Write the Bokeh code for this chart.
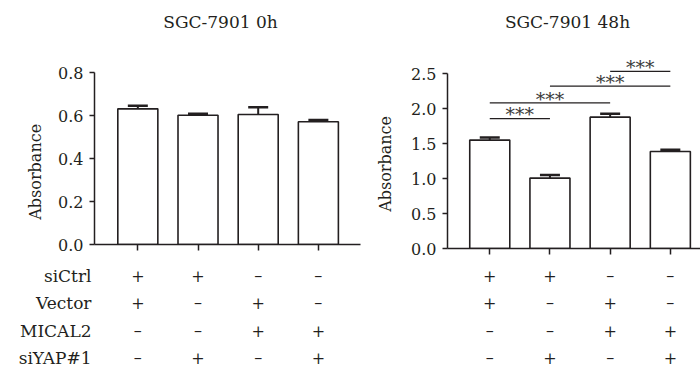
import numpy as np
from bokeh.plotting import figure
from bokeh.layouts import row, column
from bokeh.models import ColumnDataSource, FixedTicker, PrintfTickFormatter, Whisker, TeeHead, Range1d
from bokeh.core.properties import value
from bokeh.embed import file_html
from bokeh.resources import INLINE

# ---------------- data ----------------
positions = [1, 2, 3, 4]
titles = ["SGC-7901 0h", "SGC-7901 48h"]
y_label = "Absorbance"

vals_0h = [0.631, 0.601, 0.605, 0.571]
err_0h = [0.014, 0.007, 0.033, 0.008]
ticks_0h = [0.0, 0.2, 0.4, 0.6, 0.8]

vals_48h = [1.549, 1.006, 1.877, 1.386]
err_48h = [0.036, 0.045, 0.050, 0.025]
ticks_48h = [0.0, 0.5, 1.0, 1.5, 2.0, 2.5]

row_names = ["siCtrl", "Vector", "MICAL2", "siYAP#1"]
siCtrl = ["+", "+", "–", "–"]
Vector = ["+", "–", "+", "–"]
MICAL2 = ["–", "–", "+", "+"]
siYAP1 = ["–", "+", "–", "+"]
conditions = [siCtrl, Vector, MICAL2, siYAP1]

sig_left = [1, 1, 2, 3]
sig_right = [2, 3, 4, 4]
sig_height = [1.857, 2.081, 2.32, 2.53]
sig_text = ["***", "***", "***", "***"]

# ---------------- style / layout ----------------
INK = "#231f20"
FONT = "DejaVu Serif"
BAR_W = 0.665
TOP_H = 44          # title strip height
CHART_H = 220       # chart strip height
TABLE_H = 104       # condition table height
ROW_Y = [11, 38, 66, 93]   # table row centres (px from top of table strip)


def text_fig(width, height, xr, yr):
    p = figure(width=width, height=height, x_range=xr, y_range=yr, output_backend="svg",
               toolbar_location=None, x_axis_type=None, y_axis_type=None,
               min_border_left=0, min_border_right=0, min_border_top=0, min_border_bottom=0)
    p.outline_line_color = None
    p.background_fill_color = "white"
    p.border_fill_color = "white"
    return p


def chart_fig(width, bl, br, bt, bb, xr, yr, vals, errs, ticks):
    p = figure(width=width, height=CHART_H, output_backend="svg", toolbar_location=None,
               x_range=Range1d(*xr), y_range=Range1d(*yr),
               min_border_left=bl, min_border_right=br, min_border_top=bt, min_border_bottom=bb)
    p.outline_line_color = None
    p.xgrid.visible = False
    p.ygrid.visible = False

    src = ColumnDataSource(dict(x=positions, top=vals, up=[v + e for v, e in zip(vals, errs)]))
    p.add_layout(Whisker(base="x", lower="top", upper="up", source=src, line_color=INK, line_width=2,
                         upper_head=TeeHead(size=20, line_color=INK, line_width=2.5), lower_head=None))
    p.vbar(x="x", top="top", width=BAR_W, bottom=0, source=src, fill_color="white",
           line_color=INK, line_width=1.6)

    ya = p.yaxis[0]
    ya.ticker = FixedTicker(ticks=ticks)
    ya.formatter = PrintfTickFormatter(format="%.1f")
    ya.bounds = (ticks[0], ticks[-1])
    ya.axis_line_color = INK
    ya.axis_line_width = 1.5
    ya.major_tick_line_color = INK
    ya.major_tick_line_width = 1.5
    ya.major_tick_out = 5
    ya.major_tick_in = 0
    ya.minor_tick_line_color = None
    ya.major_label_text_font = FONT
    ya.major_label_text_font_size = "16px"
    ya.major_label_text_color = INK
    ya.major_label_standoff = 6

    xa = p.xaxis[0]
    xa.ticker = FixedTicker(ticks=positions)
    xa.major_label_overrides = {k: "" for k in positions}
    xa.major_label_text_font_size = "0px"
    xa.major_label_standoff = 0
    xa.axis_line_color = INK
    xa.axis_line_width = 1.5
    xa.major_tick_line_color = INK
    xa.major_tick_line_width = 1.5
    xa.major_tick_out = 6
    xa.major_tick_in = 0
    xa.minor_tick_line_color = None
    return p


def panel(x0, width, ylab_w, frame_l, frame_r, frame_t, frame_b, xr, yr, vals, errs, ticks,
          title, title_x, ylab_x, ylab_y, show_names, name_x=None):
    # title strip
    t = text_fig(width, TOP_H, Range1d(x0, x0 + width), Range1d(TOP_H, 0))
    t.text(x=[title_x], y=[21], text=[title], text_font=value(FONT), text_font_size="17px",
           text_color=INK, text_align="center", text_baseline="middle")
    # y-label strip
    yl = text_fig(ylab_w, CHART_H, Range1d(x0, x0 + ylab_w), Range1d(TOP_H + CHART_H, TOP_H))
    yl.text(x=[ylab_x], y=[ylab_y], text=[y_label], angle=np.pi / 2, text_font=value(FONT),
            text_font_size="16px", text_color=INK, text_align="center", text_baseline="middle")
    # chart
    cx0 = x0 + ylab_w
    cw = width - ylab_w
    c = chart_fig(cw, frame_l - cx0, x0 + width - frame_r, frame_t - TOP_H,
                  TOP_H + CHART_H - frame_b, xr, yr, vals, errs, ticks)
    # condition table, x aligned with chart scale
    ppu = (frame_r - frame_l) / (xr[1] - xr[0])
    tx0 = xr[0] - (frame_l - x0) / ppu
    tx1 = xr[0] + (x0 + width - frame_l) / ppu
    tb = text_fig(width, TABLE_H, Range1d(tx0, tx1), Range1d(TABLE_H, 0))
    xs, ys, ts = [], [], []
    for r, cond in enumerate(conditions):
        for xi, s in zip(positions, cond):
            xs.append(xi)
            ys.append(ROW_Y[r])
            ts.append(s)
    tb.text(x=xs, y=ys, text=ts, text_font=value(FONT), text_font_size="16px", text_color=INK,
            text_align="center", text_baseline="middle")
    if show_names:
        nx = xr[0] - (frame_l - name_x) / ppu
        tb.text(x=[nx] * len(row_names), y=ROW_Y, text=row_names, text_font=value(FONT),
                text_font_size="17px", text_color=INK, text_align="right", text_baseline="middle")
    return c, column(t, row(yl, c), tb)


left_chart, left_panel = panel(0, 370, 50, 94, 360, 72, 244, (0.28, 4.70), (0.0, 0.8),
                               vals_0h, err_0h, ticks_0h, titles[0], 220, 35, 171, True, 91)

right_chart, right_panel = panel(370, 330, 30, 447, 700, 50, 248, (0.298, 4.501), (0.0, 2.829),
                                 vals_48h, err_48h, ticks_48h, titles[1], 567, 385, 170, False)

# significance brackets (48h)
star_lift = 0.06
bsrc = ColumnDataSource(dict(x0=sig_left, x1=sig_right, y=sig_height, text=sig_text,
                             xm=[(a + b) / 2 for a, b in zip(sig_left, sig_right)],
                             ty=[h + star_lift for h in sig_height]))
right_chart.segment(x0="x0", y0="y", x1="x1", y1="y", source=bsrc, line_color=INK, line_width=1.2)
right_chart.text(x="xm", y="ty", text="text", source=bsrc, text_font=value(FONT),
                 text_font_size="19px", text_color="#3a3a3a", text_align="center",
                 text_baseline="middle")

layout = row(left_panel, right_panel)
open("out.html", "w").write(file_html(layout, INLINE))
